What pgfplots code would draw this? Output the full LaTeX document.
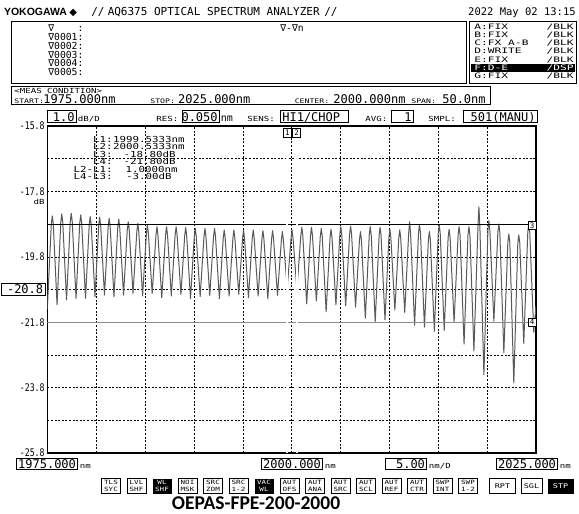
\documentclass[border=0pt]{standalone}
\usepackage{pgfplots}
\usepackage{pgfplotstable}
\pgfplotsset{compat=1.18}
\usepackage{fontspec}
\setmainfont{DejaVu Sans Mono}
\newfontfamily\scr{DejaVu Sans Mono}
\newfontfamily\scrn[FakeStretch=0.78]{DejaVu Sans Mono}
\newfontfamily\scrw[FakeStretch=1.3]{DejaVu Sans Mono}
\newfontfamily\scrx[FakeStretch=1.5]{DejaVu Sans Mono}
\newfontfamily\logo{Liberation Sans}
\newfontfamily\capt{Carlito}
\newfontfamily\sym{DejaVu Sans}
\newcommand\fs[1]{\fontsize{#1}{#1}\selectfont}
\newcommand\bg{\scr\fs{12}}
\newcommand\sm{\scrw\fs{7}}

% trace F (D-E), 1975-2025 nm
\pgfplotstableread{
x y
1975.00 -21.40
1975.41 -18.80
1975.51 -18.55
1975.61 -18.80
1976.00 -21.27
1976.38 -18.74
1976.48 -18.49
1976.58 -18.74
1976.97 -21.12
1977.35 -18.72
1977.45 -18.47
1977.55 -18.72
1977.94 -21.07
1978.32 -18.77
1978.42 -18.52
1978.52 -18.77
1978.91 -21.07
1979.29 -18.82
1979.39 -18.57
1979.49 -18.82
1979.88 -21.02
1980.26 -18.84
1980.36 -18.59
1980.46 -18.84
1980.85 -20.97
1981.23 -18.87
1981.33 -18.62
1981.43 -18.87
1981.82 -21.02
1982.21 -18.90
1982.31 -18.65
1982.41 -18.90
1982.80 -20.97
1983.18 -18.98
1983.28 -18.73
1983.38 -18.98
1983.77 -20.92
1984.16 -19.03
1984.26 -18.78
1984.36 -19.03
1984.75 -21.00
1985.14 -19.08
1985.24 -18.83
1985.34 -19.08
1985.73 -20.92
1986.12 -19.13
1986.22 -18.88
1986.32 -19.13
1986.71 -21.05
1987.10 -19.13
1987.20 -18.88
1987.30 -19.13
1987.69 -21.00
1988.08 -19.13
1988.18 -18.88
1988.28 -19.13
1988.67 -20.95
1989.06 -19.15
1989.16 -18.90
1989.26 -19.15
1989.65 -21.08
1990.04 -19.18
1990.14 -18.93
1990.24 -19.18
1990.64 -21.02
1991.03 -19.18
1991.13 -18.93
1991.23 -19.18
1991.62 -20.98
1992.01 -19.18
1992.11 -18.93
1992.21 -19.18
1992.61 -21.08
1993.00 -19.23
1993.10 -18.98
1993.20 -19.23
1993.60 -21.00
1993.99 -19.23
1994.09 -18.98
1994.19 -19.23
1994.59 -20.95
1994.98 -19.23
1995.08 -18.98
1995.18 -19.23
1995.58 -21.05
1995.97 -19.23
1996.07 -18.98
1996.17 -19.23
1996.57 -21.00
1996.96 -19.25
1997.06 -19.00
1997.16 -19.25
1997.56 -21.08
1997.95 -19.25
1998.05 -19.00
1998.15 -19.25
1998.55 -20.98
1998.95 -19.28
1999.05 -19.03
1999.15 -19.28
1999.55 -20.75
1999.94 -19.23
2000.04 -18.98
2000.14 -19.23
2000.54 -20.80
2000.94 -19.15
2001.04 -18.90
2001.14 -19.15
2001.54 -21.24
2001.93 -19.15
2002.03 -18.90
2002.13 -19.15
2002.53 -21.15
2002.93 -19.18
2003.03 -18.93
2003.13 -19.18
2003.53 -21.48
2003.93 -19.21
2004.03 -18.96
2004.13 -19.21
2004.53 -21.27
2004.93 -19.13
2005.03 -18.88
2005.13 -19.13
2005.53 -21.30
2005.93 -19.11
2006.03 -18.86
2006.13 -19.11
2006.54 -21.34
2006.94 -19.28
2007.04 -19.03
2007.14 -19.28
2007.54 -21.68
2007.94 -19.13
2008.04 -18.88
2008.14 -19.13
2008.55 -21.78
2008.95 -19.15
2009.05 -18.90
2009.15 -19.15
2009.55 -21.73
2009.95 -19.21
2010.05 -18.96
2010.15 -19.21
2010.56 -21.43
2010.96 -19.23
2011.06 -18.98
2011.16 -19.23
2011.57 -21.50
2011.97 -19.10
2012.07 -18.73
2012.17 -19.10
2012.58 -21.89
2012.98 -19.07
2013.08 -18.82
2013.18 -19.07
2013.59 -21.95
2013.99 -19.28
2014.09 -19.03
2014.19 -19.28
2014.60 -22.08
2015.00 -19.08
2015.10 -18.83
2015.20 -19.08
2015.61 -22.05
2016.01 -19.21
2016.11 -18.96
2016.21 -19.21
2016.62 -21.80
2017.03 -19.13
2017.13 -18.88
2017.23 -19.13
2017.64 -22.47
2018.04 -19.13
2018.14 -18.88
2018.24 -19.13
2018.65 -22.68
2019.06 -18.90
2019.16 -18.27
2019.26 -18.90
2019.67 -23.41
2020.08 -19.00
2020.18 -18.69
2020.28 -19.00
2020.69 -21.77
2021.10 -19.05
2021.20 -18.80
2021.30 -19.05
2021.71 -22.74
2022.12 -19.35
2022.22 -19.10
2022.32 -19.35
2022.73 -23.66
2023.14 -19.38
2023.24 -19.13
2023.34 -19.38
2023.75 -22.45
2024.16 -19.05
2024.26 -18.80
2024.36 -19.05
2024.77 -22.10
2025.00 -21.30
}\trace

\begin{document}
\begin{tikzpicture}
\begin{scope}[x=1pt,y=-1pt]
\useasboundingbox (0,0) rectangle (579,514);
\fill[white] (0,0) rectangle (579,514);
\end{scope}

\begin{axis}[at={(47.3pt,-126pt)}, anchor=north west, scale only axis,
  width=488.7pt, height=327pt,
  xmin=1975, xmax=2025, ymin=-25.8, ymax=-15.8,
  xtick={1975,1980,...,2025}, xticklabels=\empty,
  ytick={-25.8,-24.8,-23.8,-22.8,-21.8,-20.8,-19.8,-18.8,-17.8,-16.8,-15.8},
  yticklabels={-25.8,,-23.8,,-21.8,,-19.8,,-17.8,,-15.8},
  yticklabel style={font=\scrn\fs{10.5}, inner sep=0pt, xshift=-2.5pt},
  major tick length=0pt,
  grid=major,
  major grid style={black, line width=0.5pt, dash pattern=on 2pt off 1.6pt},
  axis line style={line width=1.1pt},
]
\addplot[black!65, line width=1pt, line join=round] table {\trace};
% L3 / L4 level markers
\addplot[black, line width=0.7pt] coordinates {(1975,-18.8) (2025,-18.8)};
\addplot[black!45, line width=1.3pt] coordinates {(1975,-21.8) (2025,-21.8)};
% L1 / L2 wavelength markers
\addplot[black!45, line width=0.6pt, double=white, double distance=1.3pt]
  coordinates {(1999.5333,-25.8) (1999.5333,-16.15)};
\addplot[black!45, line width=0.6pt, double=white, double distance=1.3pt]
  coordinates {(2000.5333,-25.8) (2000.5333,-16.15)};
\end{axis}

\begin{scope}[x=1pt,y=-1pt, every node/.style={inner sep=0pt}, line width=0.7pt]
% header
\node[anchor=base west] at (3.7,15.5) {\logo\bfseries\fs{10.5}YOKOGAWA};
\node[anchor=base west] at (69,15.5) {\sym\fs{10}◆};
\node[anchor=base west] at (91,15.5) {\scr\fs{11}//};
\node[anchor=base west] at (107.4,15.5) {\scr\fs{11}AQ6375 OPTICAL SPECTRUM ANALYZER};
\node[anchor=base west] at (324,15.5) {\scr\fs{11}//};
\node[anchor=base east] at (576,15.5) {\scr\fs{10.5}2022 May 02 13:15};

% marker list
\draw (11,21) rectangle (466,83);
\node[anchor=base west] at (48,31.5) {\scr\fs{9.7}∇\hphantom{0000}:};
\node[anchor=base west] at (48,40.35) {\scr\fs{9.7}∇0001:};
\node[anchor=base west] at (48,49.2) {\scr\fs{9.7}∇0002:};
\node[anchor=base west] at (48,58.05) {\scr\fs{9.7}∇0003:};
\node[anchor=base west] at (48,66.9) {\scr\fs{9.7}∇0004:};
\node[anchor=base west] at (48,75.75) {\scr\fs{9.7}∇0005:};
\node[anchor=base west] at (280,31.5) {\scr\fs{9.7}∇-∇n};

% trace list
\draw (469.6,21) rectangle (576.5,83);
\fill[black] (471,64.3) rectangle (575,72.4);
\node[anchor=base west] at (474,29.6) {\scrx\fs{7.5}A:FIX};
\node[anchor=base west] at (474,37.7) {\scrx\fs{7.5}B:FIX};
\node[anchor=base west] at (474,45.8) {\scrx\fs{7.5}C:FX A-B};
\node[anchor=base west] at (474,53.9) {\scrx\fs{7.5}D:WRITE};
\node[anchor=base west] at (474,62.0) {\scrx\fs{7.5}E:FIX};
\node[anchor=base west, white] at (474,70.4) {\scrx\fs{7.5}F:D-E};
\node[anchor=base west] at (474,78.4) {\scrx\fs{7.5}G:FIX};
\node[anchor=base east] at (574,29.6) {\scrx\fs{7.5}/BLK};
\node[anchor=base east] at (574,37.7) {\scrx\fs{7.5}/BLK};
\node[anchor=base east] at (574,45.8) {\scrx\fs{7.5}/BLK};
\node[anchor=base east] at (574,53.9) {\scrx\fs{7.5}/BLK};
\node[anchor=base east] at (574,62.0) {\scrx\fs{7.5}/BLK};
\node[anchor=base east, white] at (574,70.4) {\scrx\fs{7.5}/DSP};
\node[anchor=base east] at (574,78.4) {\scrx\fs{7.5}/BLK};

% measurement condition
\draw (11,86.7) rectangle (490,104.6);
\node[anchor=base west] at (14,93.5) {\scrw\fs{7}<MEAS CONDITION>};
\node[anchor=base west] at (14,103.2) {\scrw\fs{6.3}START:};
\node[anchor=base west] at (43,103.2) {\bg 1975.000nm};
\node[anchor=base west] at (150,103.2) {\scrw\fs{6.3}STOP:};
\node[anchor=base west] at (177.8,103.2) {\bg 2025.000nm};
\node[anchor=base west] at (294.4,103.2) {\scrw\fs{6.3}CENTER:};
\node[anchor=base west] at (333,103.2) {\bg 2000.000nm};
\node[anchor=base west] at (411,103.2) {\scrw\fs{6.3}SPAN:};
\node[anchor=base east] at (486,103.2) {\bg 50.0nm};

% settings row
\draw (47,110.7) rectangle (76,122.7);
\node[anchor=base east] at (75,121) {\bg 1.0};
\node[anchor=base west] at (77.5,121) {\sm dB/D};
\node[anchor=base west] at (156,121) {\sm RES:};
\draw (182,110.7) rectangle (219,122.7);
\node[anchor=base east] at (218,121) {\bg 0.050};
\node[anchor=base west] at (220.5,121) {\scr\fs{10}nm};
\node[anchor=base west] at (247,121) {\sm SENS:};
\draw (280,110.7) rectangle (348,122.7);
\node[anchor=base west] at (282,121) {\bg HI1/CHOP};
\node[anchor=base west] at (365,121) {\sm AVG:};
\draw (391,110.7) rectangle (413,122.7);
\node[anchor=base east] at (412,121) {\bg 1};
\node[anchor=base west] at (428,121) {\sm SMPL:};
\draw (463,110.7) rectangle (537,122.7);
\node[anchor=base east] at (536,121) {\bg 501(MANU)};

% y axis extras
\node[anchor=base east] at (45,204) {\sm dB};
\draw[fill=white] (1,283) rectangle (45,295.8);
\node[anchor=base east] at (43.5,293.6) {\bg -20.8};

% marker readout
\node[anchor=base east] at (113,142.3) {\scrw\fs{8.3}L1:};
\node[anchor=base east] at (185,142.3) {\scrw\fs{8.3}1999.5333nm};
\node[anchor=base east] at (113,149.7) {\scrw\fs{8.3}L2:};
\node[anchor=base east] at (185,149.7) {\scrw\fs{8.3}2000.5333nm};
\node[anchor=base east] at (113,157) {\scrw\fs{8.3}L3:};
\node[anchor=base east] at (176,157) {\scrw\fs{8.3}-18.80dB};
\node[anchor=base east] at (113,164.7) {\scrw\fs{8.3}L4:};
\node[anchor=base east] at (176,164.7) {\scrw\fs{8.3}-21.80dB};
\node[anchor=base east] at (113,172) {\scrw\fs{8.3}L2-L1:};
\node[anchor=base east] at (178,172) {\scrw\fs{8.3}1.0000nm};
\node[anchor=base east] at (113,179.5) {\scrw\fs{8.3}L4-L3:};
\node[anchor=base east] at (172,179.5) {\scrw\fs{8.3}-3.00dB};

% marker tags
\draw[fill=white, line width=0.6pt] (283.3,128) rectangle (291.3,137);
\node at (287.3,132.5) {\scr\fs{7.5}1};
\draw[fill=white, line width=0.6pt] (292.7,128) rectangle (300.7,137);
\node at (296.7,132.5) {\scr\fs{7.5}2};
\draw[fill=white, line width=0.6pt] (528.5,221.5) rectangle (536,229.5);
\node at (532.2,225.5) {\scr\fs{7.5}3};
\draw[fill=white, line width=0.6pt] (528.5,318) rectangle (536,326.5);
\node at (532.2,322.2) {\scr\fs{7.5}4};

% x scale boxes
\draw (16,458) rectangle (77,469.5);
\node[anchor=base east] at (76.3,468) {\bg 1975.000};
\node[anchor=base west] at (79.5,468) {\sm nm};
\draw (261,458) rectangle (322,469.5);
\node[anchor=base east] at (321.3,468) {\bg 2000.000};
\node[anchor=base west] at (324.5,468) {\sm nm};
\draw (385,458) rectangle (426,469.5);
\node[anchor=base east] at (425.3,468) {\bg 5.00};
\node[anchor=base west] at (428.5,468) {\sm nm/D};
\draw (496,458) rectangle (557,469.5);
\node[anchor=base east] at (556.3,468) {\bg 2025.000};
\node[anchor=base west] at (559.5,468) {\sm nm};

% soft keys
\foreach \i/\ta/\tb in {0/TLS/SYC,1/LVL/SHF,3/NOI/MSK,4/SRC/ZOM,5/SRC/1-2,7/AUT/OFS,8/AUT/ANA,9/AUT/SRC,10/AUT/SCL,11/AUT/REF,12/AUT/CTR,13/SWP/INT,14/SWP/1-2}{
  \pgfmathsetmacro\bx{101.5+25.5*\i}
  \draw[line width=0.6pt] (\bx,478.5) rectangle ++(19,15);
  \node at (\bx+9.5,482.8) {\scrw\fs{5.8}\ta};
  \node at (\bx+9.5,489.6) {\scrw\fs{5.8}\tb};
}
\foreach \i/\ta/\tb in {2/WL/SHF,6/VAC/WL}{
  \pgfmathsetmacro\bx{101.5+25.5*\i}
  \fill[black] (\bx,478.5) rectangle ++(19,15);
  \node[white] at (\bx+9.5,482.8) {\scrw\fs{5.8}\ta};
  \node[white] at (\bx+9.5,489.6) {\scrw\fs{5.8}\tb};
}
\draw[line width=0.6pt] (489.4,478.5) rectangle (515.6,493.5);
\node at (502.5,486) {\scrw\fs{6.5}RPT};
\draw[line width=0.6pt] (521.2,478.5) rectangle (541.8,493.5);
\node at (531.5,486) {\scrw\fs{6.5}SGL};
\fill[black] (547.5,478.5) rectangle (573.7,493.5);
\node[white] at (560.6,486) {\scrw\fs{6.5}STP};

% caption
\node[anchor=base] at (256,509) {\capt\bfseries\fs{19.5}OEPAS-FPE-200-2000};
\end{scope}
\end{tikzpicture}
\end{document}
